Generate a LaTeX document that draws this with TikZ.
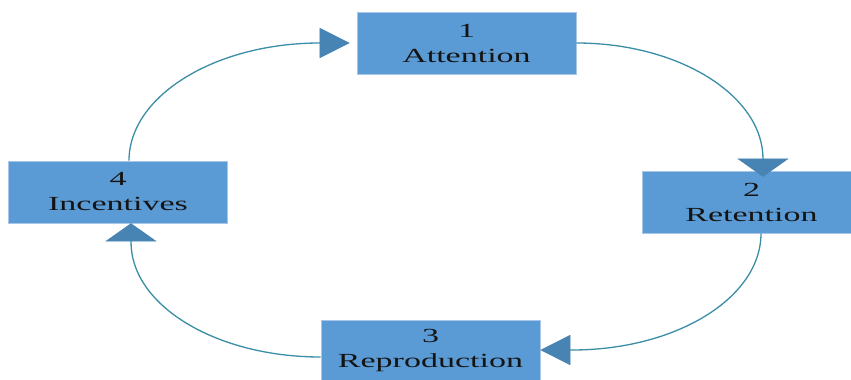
\documentclass[tikz,border=0pt]{standalone}
\usepackage{graphicx}
\usepackage{fontspec}
\setmainfont{Liberation Serif}
\usetikzlibrary{arrows.meta,calc}
\definecolor{boxblue}{HTML}{5B9BD5}
\definecolor{boxedge}{HTML}{A9C6E8}
\definecolor{linecol}{HTML}{3A8FA6}
\definecolor{headcol}{HTML}{4783B3}
\newcommand{\widetext}[1]{\scalebox{1.7}[1]{#1}}
\begin{document}
\begin{tikzpicture}[x=1pt,y=1pt,
  stagebox/.style={rectangle, fill=boxblue, draw=boxedge, line width=0.6pt,
    minimum width=219pt, minimum height=62pt, inner sep=0pt, align=center,
    font=\fontsize{20}{25}\selectfont, text=black!92},
  flow/.style={draw=linecol, line width=1.3pt},
  hh/.style={-{Triangle[length=30pt,width=30pt,fill=headcol,color=headcol,line width=0.4pt]}},
  hv/.style={-{Triangle[length=18pt,width=51pt,fill=headcol,color=headcol,line width=0.4pt]}},
]
\useasboundingbox (0,0) rectangle (851,-380);
\fill[white] (0,0) rectangle (851,-380);

\node[stagebox] (n1) at (466.5,-43) {\widetext{1}\\\widetext{Attention}};
\node[stagebox] (n2) at (751.5,-202) {\widetext{2}\\\widetext{Retention}};
\node[stagebox] (n3) at (430.5,-351) {\widetext{3}\\\widetext{Reproduction}};
\node[stagebox] (n4) at (118,-192) {\widetext{4}\\\widetext{Incentives}};

% 4 -> 1
\draw[flow,hh,shorten >=7pt] ([xshift=11pt]n4.north) .. controls (129,-96) and (215,-43) .. (320,-43) -- (n1.west);
% 1 -> 2
\draw[flow,hv,shorten >=-6pt] (n1.east) .. controls (679,-43) and (763,-95.5) .. (763,-159) -- ([xshift=11.5pt]n2.north);
% 2 -> 3
\draw[flow,hh] ([xshift=9.5pt]n2.south) .. controls (761,-298) and (676,-350) .. (572,-350) -- ($(n3.east)+(0,1)$);
% 3 -> 4
\draw[flow,hv] ([yshift=-6pt]n3.west) .. controls (216,-357) and (131,-305.5) .. (131,-242) -- ([xshift=13pt]n4.south);
\end{tikzpicture}
\end{document}
